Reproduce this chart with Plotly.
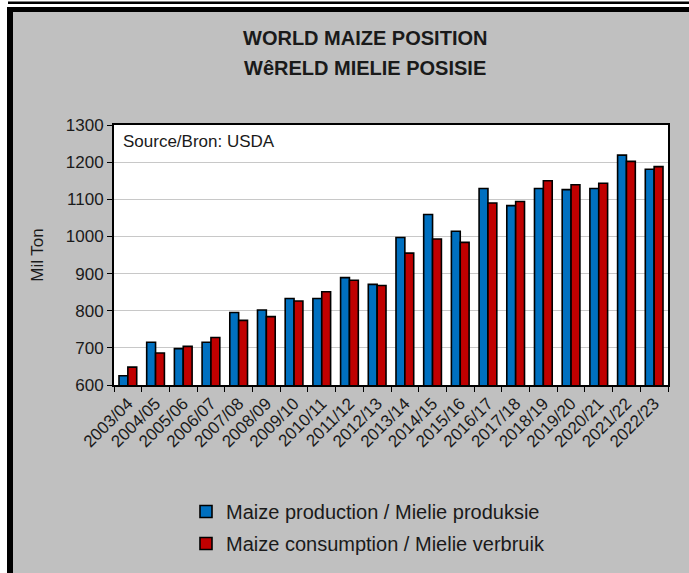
import plotly.graph_objects as go

# USDA world maize balance, million tons
seasons = [
    "2003/04", "2004/05", "2005/06", "2006/07", "2007/08", "2008/09", "2009/10",
    "2010/11", "2011/12", "2012/13", "2013/14", "2014/15", "2015/16", "2016/17",
    "2017/18", "2018/19", "2019/20", "2020/21", "2021/22", "2022/23",
]
production = [625, 715, 698, 715, 795, 802, 833, 833, 889, 871,
              997, 1059, 1014, 1129, 1083, 1129, 1126, 1129, 1219, 1181]
consumption = [648, 686, 704, 728, 774, 784, 826, 851, 882, 868,
               955, 993, 984, 1090, 1094, 1150, 1139, 1143, 1202, 1188]

FONT = "Arial, Liberation Sans, sans-serif"
W, H = 689, 573
L, R, T, B = 114, 668, 125, 385


def xp(px):
    return (px - L) / (R - L)


def yp(py):
    return (B - py) / (B - T)


fig = go.Figure()
fig.add_bar(
    x=seasons, y=production, name="Maize production / Mielie produksie",
    marker=dict(color="#0070C0", line=dict(color="black", width=1.6)),
    legendgroup="p",
)
fig.add_bar(
    x=seasons, y=consumption, name="Maize consumption / Mielie verbruik",
    marker=dict(color="#C00000", line=dict(color="black", width=1.6)),
    legendgroup="c",
)

# page frame: white strip top/left, black rules, grey panel
shapes = []
for x0, y0, x1, y1, col in [
    (0, 0, 8, H, "white"),
    (0, 0, W, 7, "white"),
    (8, 1.5, W, 4, "black"),
    (7, 7, 13, H, "black"),
    (7, 7, W, 12, "black"),
]:
    shapes.append(dict(
        type="rect", xref="paper", yref="paper",
        x0=xp(x0), x1=xp(x1), y0=yp(y1), y1=yp(y0),
        fillcolor=col, line=dict(width=0), layer="above",
    ))

fig.update_layout(
    width=W, height=H,
    margin=dict(l=L, r=W - R, t=T, b=H - B, autoexpand=False),
    paper_bgcolor="#C0C0C0",
    plot_bgcolor="white",
    font=dict(family=FONT, size=16, color="#1a1a1a"),
    barmode="group",
    bargap=0.36,
    bargroupgap=0,
    shapes=shapes,
    showlegend=True,
    legend=dict(
        x=xp(186), y=yp(492), xanchor="left", yanchor="top",
        bgcolor="rgba(0,0,0,0)", font=dict(size=20, family=FONT),
        tracegroupgap=3, traceorder="grouped",
    ),
    annotations=[
        dict(text="<b>WORLD MAIZE POSITION</b>", x=xp(365), y=yp(38),
             xref="paper", yref="paper", yanchor="middle", showarrow=False,
             font=dict(size=20, family=FONT, color="#1a1a1a")),
        dict(text="<b>WêRELD MIELIE POSISIE</b>", x=xp(365), y=yp(68),
             xref="paper", yref="paper", yanchor="middle", showarrow=False,
             font=dict(size=20, family=FONT, color="#1a1a1a")),
        dict(text="Source/Bron: USDA", x=xp(121), y=yp(141),
             xref="paper", yref="paper", xanchor="left", yanchor="middle",
             showarrow=False, font=dict(size=17, family=FONT, color="#1a1a1a")),
    ],
)
fig.update_xaxes(
    type="category", tickangle=-45, tickson="boundaries",
    ticks="outside", ticklen=5, tickcolor="black", tickwidth=1,
    showline=True, linecolor="black", linewidth=2, mirror=True,
    tickfont=dict(size=17), showgrid=False,
)
fig.update_yaxes(
    range=[600, 1300], dtick=100,
    ticks="outside", ticklen=5, tickcolor="black", tickwidth=1,
    showline=True, linecolor="black", linewidth=2, mirror=True,
    gridcolor="#C8C8C8", gridwidth=1, zeroline=False,
    tickfont=dict(size=17),
    title=dict(text="Mil Ton", font=dict(size=17), standoff=18),
)

fig.write_html(
    "out.html",
    config={"displayModeBar": False},
    post_script="document.body.style.margin='0';",
)
